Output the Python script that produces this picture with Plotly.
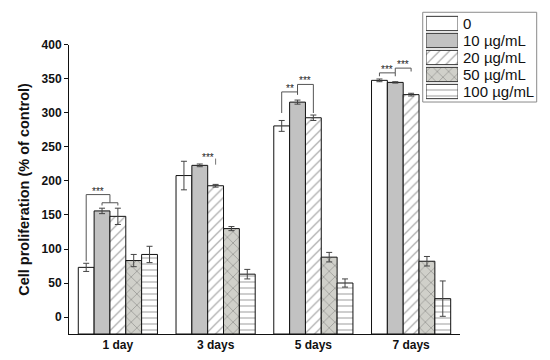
import plotly.graph_objects as go

# ---------------- data ----------------
groups = ["1 day", "3 days", "5 days", "7 days"]
series_names = ["0", "10 µg/mL", "20 µg/mL", "50 µg/mL", "100 µg/mL"]
values_0 = [73, 208, 281, 348]
values_10 = [156, 223, 316, 345]
values_20 = [148, 193, 293, 327]
values_50 = [83, 130, 88, 82]
values_100 = [92, 63, 50, 27]
err_0 = [6, 21, 8, 2]
err_10 = [4, 2, 3, 1]
err_20 = [12, 2, 4, 2]
err_50 = [9, 3, 7, 7]
err_100 = [12, 7, 6, 26]
y_ticks = [0, 50, 100, 150, 200, 250, 300, 350, 400]

# significance brackets: (group, left bar, right bar, top, left end, right end, label)
brackets = [
    (0, 0, 1.5, 180, 82, 168, "***"),
    (0, 1, 2, 168, 164, 164, ""),
    (2, 0, 1, 331, 300, 327, "**"),
    (2, 1, 2, 342, 327, 300, "***"),
    (3, 0, 1, 359, 354, 354, "***"),
    (3, 1, 2, 366, 359, 361, "***"),
]
# lone star marks (group, bar position, y)
star_marks = [(1, 1.5, 230, "***")]

values = [values_0, values_10, values_20, values_50, values_100]
errors = [err_0, err_10, err_20, err_50, err_100]

Y_MIN, Y_MAX = -25, 400
BAR_W = 0.162
FONT = "Liberation Sans, Arial, sans-serif"

styles = [
    dict(color="white", pattern=dict(shape="")),
    dict(color="#c2c2c2", pattern=dict(shape="")),
    dict(color="white", pattern=dict(shape="/", size=7, solidity=0.16, fgcolor="#3a3a3a", bgcolor="white")),
    dict(color="#d0d0ca", pattern=dict(shape="x", size=8, solidity=0.14, fgcolor="#3a3a3a", bgcolor="#d0d0ca")),
    dict(color="white", pattern=dict(shape="-", size=6, solidity=0.18, fgcolor="#4a4a4a", bgcolor="white")),
]

fig = go.Figure()
xs = list(range(len(groups)))
for i, name in enumerate(series_names):
    st = styles[i]
    fig.add_trace(go.Bar(
        x=xs, y=[v - Y_MIN for v in values[i]], base=Y_MIN,
        offset=-2.5 * BAR_W + i * BAR_W, width=BAR_W,
        name=name, showlegend=False,
        marker=dict(color=st["color"], pattern=st["pattern"],
                    line=dict(color="#111111", width=1)),
        error_y=dict(type="data", array=errors[i], color="#444444", thickness=1, width=3),
    ))

# inset legend built from bars on a small separate axis
for i, name in enumerate(series_names):
    st = styles[i]
    fig.add_trace(go.Bar(
        x=[1], y=[name], orientation="h", width=0.84,
        xaxis="x2", yaxis="y2", showlegend=False, hoverinfo="skip",
        marker=dict(color=st["color"], pattern=st["pattern"],
                    line=dict(color="#333333", width=1)),
    ))

def cx(g, b):
    return g + (b - 2) * BAR_W

shapes = []
annos = []
for g, bl, br, top, yl, yr, lab in brackets:
    x0, x1 = cx(g, bl), cx(g, br)
    shapes.append(dict(type="path", xref="x", yref="y",
                       path=f"M {x0} {yl} L {x0} {top} L {x1} {top} L {x1} {yr}",
                       line=dict(color="#555555", width=1)))
    if lab:
        annos.append(dict(x=(x0 + x1) / 2, y=top, xref="x", yref="y", text=lab,
                          showarrow=False, yanchor="bottom", yshift=-4,
                          font=dict(family=FONT, size=10, color="#222222")))
for g, b, yv, lab in star_marks:
    annos.append(dict(x=cx(g, b), y=yv, xref="x", yref="y", text=lab,
                      showarrow=False, yanchor="bottom", yshift=-4,
                      font=dict(family=FONT, size=10, color="#222222")))
    shapes.append(dict(type="line", xref="x", yref="y",
                       x0=cx(g, b + 0.5), x1=cx(g, b + 0.5), y0=yv - 6, y1=yv + 3,
                       line=dict(color="#777777", width=1)))

# legend border
shapes.append(dict(type="rect", xref="paper", yref="paper",
                   x0=0.751, x1=0.993, y0=0.716, y1=0.993,
                   line=dict(color="#8a8a8a", width=1), fillcolor="rgba(0,0,0,0)"))

fig.update_layout(
    width=550, height=360,
    margin=dict(l=69, r=10, t=10, b=26, autoexpand=False),
    paper_bgcolor="white", plot_bgcolor="white",
    barmode="overlay",
    font=dict(family=FONT, color="#111111"),
    xaxis=dict(domain=[0, 0.8301], range=[-0.5, 3.5], tickvals=xs, ticktext=groups,
               showline=True, linecolor="#111111", linewidth=1, ticks="",
               showgrid=False, zeroline=False, automargin=False,
               tickfont=dict(family=FONT, size=12, color="#111111", weight="bold")),
    yaxis=dict(domain=[0, 0.892], range=[Y_MIN, Y_MAX], tickvals=y_ticks,
               showline=True, linecolor="#111111", linewidth=1,
               ticks="outside", ticklen=4, tickcolor="#111111",
               showgrid=False, zeroline=False, automargin=False,
               tickfont=dict(family=FONT, size=12, color="#111111", weight="bold"),
               title=dict(text="Cell proliferation (% of control)", standoff=8,
                          font=dict(family=FONT, size=14.5, color="#111111", weight="bold"))),
    xaxis2=dict(domain=[0.758, 0.826], range=[0, 1], anchor="y2", automargin=False,
                showline=False, showgrid=False, zeroline=False, showticklabels=False, ticks=""),
    yaxis2=dict(domain=[0.7222, 0.9846], anchor="x2", side="right", autorange="reversed",
                type="category", categoryorder="array", categoryarray=series_names,
                tickmode="array", tickvals=series_names, ticktext=series_names,
                showline=False, showgrid=False, zeroline=False, ticks="", automargin=False,
                ticklabelstandoff=4,
                tickfont=dict(family=FONT, size=15, color="#111111")),
    shapes=shapes, annotations=annos,
)

fig.write_html("out.html", config={"displayModeBar": False},
               post_script="document.body.style.margin='0';")
